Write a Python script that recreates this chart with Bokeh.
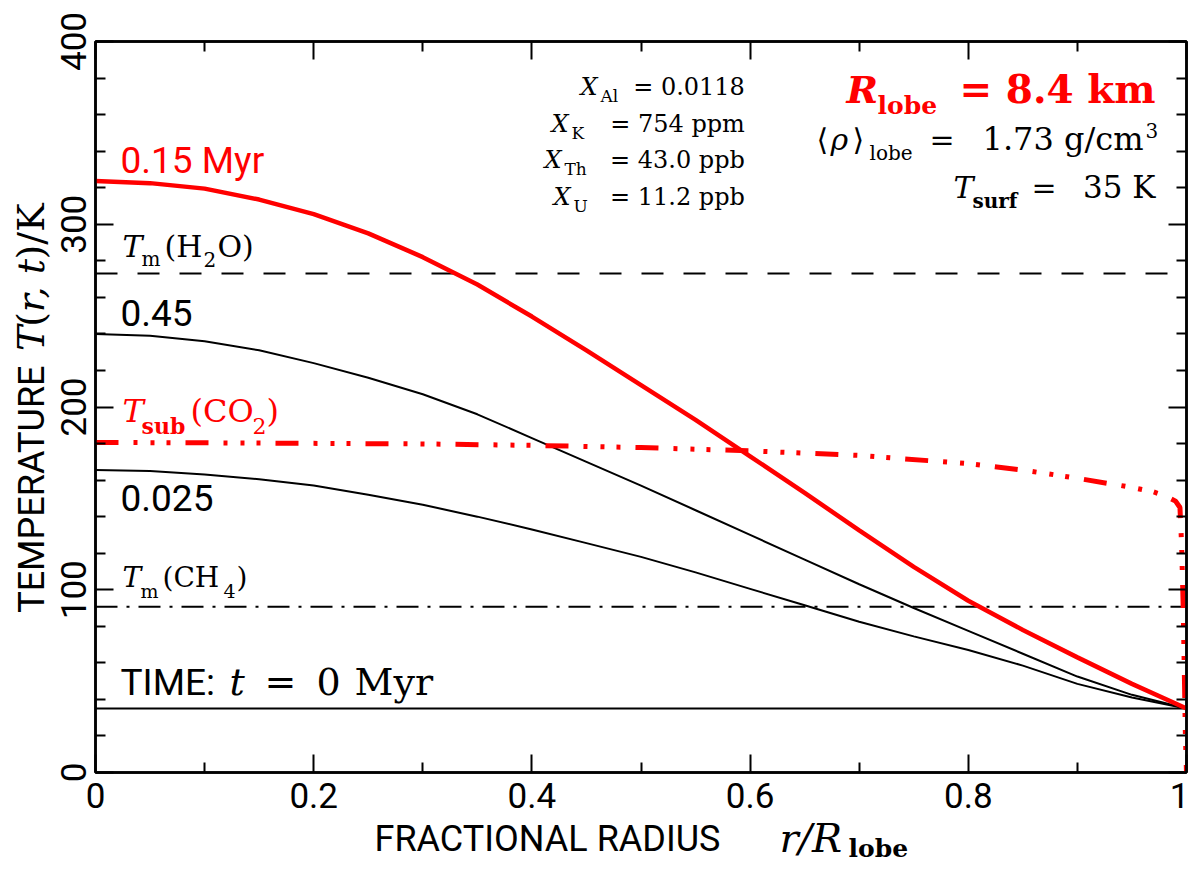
import math
from bokeh.plotting import figure
from bokeh.layouts import row, column
from bokeh.models import Range1d, FixedTicker, LinearAxis, Label, CustomJSTickFormatter
from bokeh.embed import file_html
from bokeh.resources import INLINE

# ---------------- data ----------------
r_grid = [0.0, 0.05, 0.1, 0.15, 0.2, 0.25, 0.3, 0.35, 0.4, 0.45, 0.5,
          0.55, 0.6, 0.65, 0.7, 0.75, 0.8, 0.85, 0.9, 0.95, 1.0]
T_015Myr = [323.6, 322.5, 319.5, 313.5, 305.5, 295.0, 282.0, 267.0, 249.5, 231.0, 212.0,
            193.0, 173.0, 153.0, 132.5, 112.5, 94.0, 78.0, 63.0, 48.5, 35.0]
T_045Myr = [240.0, 239.0, 236.0, 231.0, 224.0, 216.0, 207.0, 196.0, 183.0, 170.0, 157.0,
            143.5, 130.0, 116.5, 103.0, 90.0, 77.5, 65.0, 52.5, 42.5, 35.0]
T_0025Myr = [165.5, 165.0, 163.0, 160.5, 157.0, 152.0, 146.5, 140.0, 133.0, 125.5, 118.0,
             109.5, 100.5, 91.5, 82.5, 74.5, 67.0, 58.5, 48.5, 41.0, 35.0]
r_sub = [0.0, 0.1, 0.2, 0.3, 0.4, 0.5, 0.6, 0.7, 0.8, 0.85, 0.9, 0.93, 0.95,
         0.97, 0.98, 0.99, 0.994, 0.9955, 0.997, 0.998, 0.999, 1.0]
T_sub_CO2 = [180.6, 180.4, 180.1, 179.8, 179.0, 177.8, 176.0, 173.5, 169.0, 165.5, 161.0, 158.0, 156.0,
             153.5, 151.5, 148.5, 145.0, 125.0, 90.0, 55.0, 20.0, 0.0]
r_span = [0.0, 1.0]
T_surf = [35.0, 35.0]
T_m_H2O = [273.0, 273.0]
T_m_CH4 = [90.7, 90.7]

x_major = [0.0, 0.2, 0.4, 0.6, 0.8, 1.0]
x_minor = [0.1, 0.3, 0.5, 0.7, 0.9]
y_major = [0, 100, 200, 300, 400]
y_minor = [20, 40, 60, 80, 120, 140, 160, 180, 220, 240, 260, 280, 320, 340, 360, 380]

RED = "#ff0000"
SANS = "Roboto"
SERIF = "DejaVu Serif"

# ---------------- layout sizes (page pixels) ----------------
PAGE_W, PAGE_H = 1189, 863
LEFT_W = 55          # strip holding the y title
BOTTOM_H = 48        # strip holding the x title
MAIN_H = PAGE_H - BOTTOM_H
BASE_SHIFT = 0.36    # correction (in em) so that the given y is the text baseline

# ---------------- main figure ----------------
p = figure(width=PAGE_W - LEFT_W, height=MAIN_H, x_range=Range1d(0, 1), y_range=Range1d(0, 400),
           output_backend="svg", toolbar_location=None,
           min_border_left=95 - LEFT_W, min_border_right=3, min_border_top=41,
           min_border_bottom=MAIN_H - 772)
p.grid.visible = False
p.outline_line_color = "black"
p.outline_line_width = 2.5
p.background_fill_color = "white"
p.border_fill_color = "white"

xfmt = CustomJSTickFormatter(code="return String(parseFloat(tick.toFixed(2)));")
empty = CustomJSTickFormatter(code="return '';")


def style_axis(ax, major, minor, labels, vertical=False):
    ax.ticker = FixedTicker(ticks=major, minor_ticks=minor)
    ax.major_tick_in = 18
    ax.major_tick_out = 0
    ax.minor_tick_in = 10
    ax.minor_tick_out = 0
    ax.major_tick_line_width = 2
    ax.minor_tick_line_width = 2
    ax.major_tick_line_color = "black"
    ax.minor_tick_line_color = "black"
    ax.axis_line_width = 2.5
    ax.axis_line_color = "black"
    ax.axis_label = None
    if labels:
        ax.major_label_text_font = SANS
        ax.major_label_text_font_size = "35px"
        ax.major_label_text_color = "black"
        ax.major_label_standoff = 10
        if vertical:
            ax.major_label_orientation = "parallel"
    else:
        ax.formatter = empty
        ax.major_label_standoff = 0
        ax.major_label_text_font_size = "0px"


xb = p.xaxis[0]
yl = p.yaxis[0]
style_axis(xb, x_major, x_minor, True)
xb.formatter = xfmt
style_axis(yl, y_major, y_minor, True, vertical=True)

xt = LinearAxis()
p.add_layout(xt, "above")
style_axis(xt, x_major, x_minor, False)
yr = LinearAxis()
p.add_layout(yr, "right")
style_axis(yr, y_major, y_minor, False)

# ---------------- curves ----------------
p.line(r_span, T_surf, line_color="black", line_width=2)
p.line(r_span, T_m_H2O, line_color="black", line_width=2, line_dash="22 20")
p.line(r_span, T_m_CH4, line_color="black", line_width=2, line_dash="22 9 3 9")
p.line(r_grid, T_0025Myr, line_color="black", line_width=2)
p.line(r_grid, T_045Myr, line_color="black", line_width=2)
p.line(r_sub, T_sub_CO2, line_color=RED, line_width=5, line_dash="23 15 4 13 4 12 4 15")
p.line(r_grid, T_015Myr, line_color=RED, line_width=4.5)


# ---------------- text ----------------
def fx(px):
    return (px - 95) / 1091.0


def fy(py):
    return (772 - py) * 400.0 / 731.0


def mk(fig, px, py, text, size, font, style, color, align, angle, conv=None):
    s = BASE_SHIFT * size
    qx = px - s * math.sin(angle)
    qy = py - s * math.cos(angle)
    if conv is not None:
        qx, qy = conv(qx, qy)
    fig.add_layout(Label(x=qx, y=qy, text=text, text_font=font,
                         text_font_size=f"{size}px", text_font_style=style,
                         text_color=color, text_align=align, text_baseline="alphabetic",
                         angle=angle))


def lab(px, py, text, size, font=SERIF, style="normal", color="black", align="left"):
    mk(p, px, py, text, size, font, style, color, align, 0.0, conv=lambda a, b: (fx(a), fy(b)))


# curve labels
lab(120, 173, "0.15 Myr", 37, SANS, color=RED)
lab(120, 326, "0.45", 37, SANS)
lab(120, 511, "0.025", 37, SANS)
lab(120, 695, "TIME:", 37, SANS)
lab(229, 695, "t", 38, SERIF, "italic")
lab(264, 695, "=", 38)
lab(316, 695, "0", 38)
lab(354, 695, "Myr", 38)

# T_m(H2O)
lab(122, 257, "T", 30, SERIF, "italic")
lab(141, 266, "m", 20)
lab(164, 257, "(H", 30)
lab(203, 266, "2", 20)
lab(217, 257, "O)", 30)

# T_sub(CO2)
lab(122, 422, "T", 32, SERIF, "italic", RED)
lab(141, 433, "sub", 22, SERIF, "bold", RED)
lab(190, 422, "(CO", 32, SERIF, "normal", RED)
lab(252, 433, "2", 22, SERIF, "normal", RED)
lab(266, 422, ")", 32, SERIF, "normal", RED)

# T_m(CH4)
lab(122, 587, "T", 28, SERIF, "italic")
lab(140, 597, "m", 19)
lab(162, 587, "(CH", 28)
lab(223, 597, "4", 19)
lab(236, 587, ")", 28)

# composition block
rows = [(95, 580, "Al", "=  0.0118"), (132, 551, "K", "=  754 ppm"),
        (168, 544, "Th", "=  43.0 ppb"), (205, 553, "U", "=  11.2 ppb")]
for by, x0, sub, rest in rows:
    lab(x0, by, "X", 24, SERIF, "italic")
    lab(x0 + 20, by + 7, sub, 17)
    lab(752, by, rest, 24, align="right")

# body parameters
lab(846, 103, "R", 38, SERIF, "bold italic", RED)
lab(877, 114, "lobe", 25, SERIF, "bold", RED)
lab(1155, 103, "= 8.4 km", 39, SERIF, "bold", RED, align="right")

lab(816, 150, "\u27e8", 30)
lab(830, 150, "\u03c1", 30, SERIF, "italic")
lab(852, 150, "\u27e9", 30)
lab(869, 160, "lobe", 20)
lab(929, 150, "=", 30)
lab(1143, 150, "1.73 g/cm", 32, align="right")
lab(1145, 137, "3", 20)

lab(953, 198, "T", 30, SERIF, "italic")
lab(972, 208, "surf", 20, SERIF, "bold")
lab(1031, 198, "=", 30)
lab(1155, 198, "35 K", 31, align="right")


# ---------------- title strips (page-pixel data ranges, y downward) ----------------
def strip(width, height, x0, y0):
    f = figure(width=width, height=height, x_range=Range1d(x0, x0 + width),
               y_range=Range1d(y0 + height, y0), output_backend="svg", toolbar_location=None,
               min_border=0, x_axis_location=None, y_axis_location=None)
    f.outline_line_color = None
    f.background_fill_color = "white"
    f.border_fill_color = "white"
    f.xgrid.grid_line_color = None
    f.ygrid.grid_line_color = None
    f.grid.visible = False
    return f


left = strip(LEFT_W, MAIN_H, 0, 0)
bottom = strip(PAGE_W, BOTTOM_H, 0, MAIN_H)

V = math.pi / 2
mk(left, 44, 637, "TEMPERATURE", 36, SANS, "normal", "black", "left", V)
mk(left, 44, 345, "T", 38, SERIF, "italic", "black", "left", V)
mk(left, 44, 318, "(", 38, SERIF, "normal", "black", "left", V)
mk(left, 44, 302, "r, t", 38, SERIF, "italic", "black", "left", V)
mk(left, 44, 243, ")/K", 38, SERIF, "normal", "black", "left", V)

mk(bottom, 374, 851, "FRACTIONAL RADIUS", 36, SANS, "normal", "black", "left", 0.0)
mk(bottom, 779, 852, "r/R", 40, SERIF, "italic", "black", "left", 0.0)
mk(bottom, 848, 857, "lobe", 25, SERIF, "bold", "black", "left", 0.0)

layout = column(row(left, p), bottom)
open("out.html", "w").write(file_html(layout, INLINE))
